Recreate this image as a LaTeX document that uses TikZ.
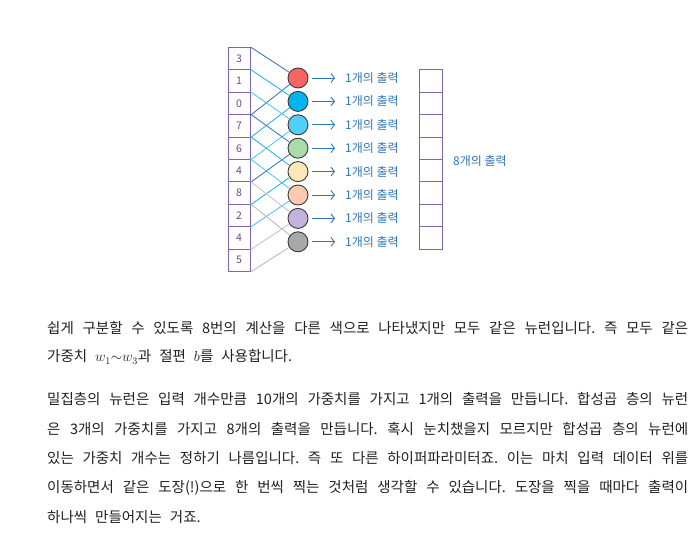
\RequirePackage{fix-cm}
\documentclass[tikz,border=0pt]{standalone}
\usepackage{fontspec}
\newfontfamily\krfont{Noto Sans CJK KR}
\usetikzlibrary{arrows.meta}
\frenchspacing
\newcommand\wordgap{\spaceskip=8pt plus 4pt minus 3pt\relax}

\definecolor{boxpurple}{HTML}{8064B4}
\definecolor{numpurple}{HTML}{5E4B8B}
\definecolor{labelblue}{HTML}{2E75B6}
\definecolor{ringgray}{HTML}{3A3A3A}
\definecolor{bodytext}{HTML}{231F20}
\definecolor{wiredark}{HTML}{2F6FBA}
\definecolor{wireblue}{HTML}{19AEE8}
\definecolor{wirecyan}{HTML}{3CC8F0}
\definecolor{wirepurple}{HTML}{C8B8E0}
\definecolor{wiregray}{HTML}{B4B4B4}
\definecolor{nred}{HTML}{F86464}
\definecolor{nblue}{HTML}{00B4EE}
\definecolor{ncyan}{HTML}{50D0F8}
\definecolor{ngreen}{HTML}{A8DCA8}
\definecolor{nyellow}{HTML}{FFE8B8}
\definecolor{npeach}{HTML}{FFC8B0}
\definecolor{nlavender}{HTML}{C4B4DC}
\definecolor{ngray}{HTML}{A8A8A8}

\begin{document}
\begin{tikzpicture}[x=1pt,y=-1pt]
	\tikzstyle{cell}=[draw=boxpurple,line width=1pt,minimum width=22pt,minimum height=22.4pt,inner sep=0,text=numpurple,font=\krfont\fontsize{10.5}{12}\selectfont]
	\tikzstyle{neuron}=[circle,draw=ringgray,line width=0.9pt,minimum size=20pt,inner sep=0]
	\tikzstyle{wire}=[line width=0.8pt]
	\tikzstyle{outarrow}=[-{Straight Barb[length=3.5pt,width=9pt]},labelblue,line width=0.9pt,shorten <=4pt,shorten >=10pt]
	\tikzstyle{lbl}=[anchor=west,inner sep=0,text=labelblue,font=\krfont\fontsize{12}{14}\selectfont]
	\tikzstyle{body}=[anchor=west,inner sep=0,text=bodytext,font=\krfont\fontsize{14.5}{17}\selectfont]
	
	\useasboundingbox (0,0) rectangle (698,537);
	
	% input
	\node [cell] (in0) at (239, 58.7) {3};
	\node [cell] (in1) at (239, 81.1) {1};
	\node [cell] (in2) at (239,103.5) {0};
	\node [cell] (in3) at (239,125.9) {7};
	\node [cell] (in4) at (239,148.3) {6};
	\node [cell] (in5) at (239,170.7) {4};
	\node [cell] (in6) at (239,193.1) {8};
	\node [cell] (in7) at (239,215.5) {2};
	\node [cell] (in8) at (239,237.9) {4};
	\node [cell] (in9) at (239,260.3) {5};
	
	% neurons
	\node [neuron,fill=nred]      (n0) at (298, 78.0) {};
	\node [neuron,fill=nblue]     (n1) at (298,101.4) {};
	\node [neuron,fill=ncyan]     (n2) at (298,124.8) {};
	\node [neuron,fill=ngreen]    (n3) at (298,148.2) {};
	\node [neuron,fill=nyellow]   (n4) at (298,171.6) {};
	\node [neuron,fill=npeach]    (n5) at (298,195.0) {};
	\node [neuron,fill=nlavender] (n6) at (298,218.4) {};
	\node [neuron,fill=ngray]     (n7) at (298,241.8) {};
	
	\draw[wire,wiredark]   (in0.north east)--(n0);
	\draw[wire,wiredark]   (in2.south east)--(n0);
	\draw[wire,wireblue]   (in1.north east)--(n1);
	\draw[wire,wireblue]   (in3.south east)--(n1);
	\draw[wire,wirecyan]   (in2.north east)--(n2);
	\draw[wire,wirecyan]   (in4.south east)--(n2);
	\draw[wire,wiredark]   (in3.north east)--(n3);
	\draw[wire,wiredark]   (in5.south east)--(n3);
	\draw[wire,wireblue]   (in4.north east)--(n4);
	\draw[wire,wireblue]   (in6.south east)--(n4);
	\draw[wire,wirecyan]   (in5.north east)--(n5);
	\draw[wire,wirecyan]   (in7.south east)--(n5);
	\draw[wire,wirepurple] (in6.north east)--(n6);
	\draw[wire,wirepurple] (in8.south east)--(n6);
	\draw[wire,wiregray]   (in7.north east)--(n7);
	\draw[wire,wiregray]   (in9.south east)--(n7);
	
	% one output each
	\node [lbl] (o0) at (345, 78.0) {1개의 출력};
	\node [lbl] (o1) at (345,101.4) {1개의 출력};
	\node [lbl] (o2) at (345,124.8) {1개의 출력};
	\node [lbl] (o3) at (345,148.2) {1개의 출력};
	\node [lbl] (o4) at (345,171.6) {1개의 출력};
	\node [lbl] (o5) at (345,195.0) {1개의 출력};
	\node [lbl] (o6) at (345,218.4) {1개의 출력};
	\node [lbl] (o7) at (345,241.8) {1개의 출력};
	
	\draw[outarrow] (n0)--(o0);
	\draw[outarrow] (n1)--(o1);
	\draw[outarrow] (n2)--(o2);
	\draw[outarrow] (n3)--(o3);
	\draw[outarrow] (n4)--(o4);
	\draw[outarrow] (n5)--(o5);
	\draw[outarrow] (n6)--(o6);
	\draw[outarrow] (n7)--(o7);
	
	% output map
	\node [cell,minimum width=22.7pt] (m0) at (431.3, 81.2) {};
	\node [cell,minimum width=22.7pt] (m1) at (431.3,103.6) {};
	\node [cell,minimum width=22.7pt] (m2) at (431.3,126.0) {};
	\node [cell,minimum width=22.7pt] (m3) at (431.3,148.4) {};
	\node [cell,minimum width=22.7pt] (m4) at (431.3,170.8) {};
	\node [cell,minimum width=22.7pt] (m5) at (431.3,193.2) {};
	\node [cell,minimum width=22.7pt] (m6) at (431.3,215.6) {};
	\node [cell,minimum width=22.7pt] (m7) at (431.3,238.0) {};
	\node [lbl] (mlabel) at (453,161) {8개의 출력};
	
	% text
	\node [body] (p1a) at (47,328) {\wordgap\makebox[641pt][s]{쉽게 구분할 수 있도록 8번의 계산을 다른 색으로 나타냈지만 모두 같은 뉴런입니다. 즉 모두 같은}};
	\node [body] (p1b) at (47,357) {\wordgap 가중치 $w_1{\sim}w_3$과 절편 $b$를 사용합니다.};
	\node [body] (p2a) at (47,399.0) {\wordgap\makebox[641pt][s]{밀집층의 뉴런은 입력 개수만큼 10개의 가중치를 가지고 1개의 출력을 만듭니다. 합성곱 층의 뉴런}};
	\node [body] (p2b) at (47,428.6) {\wordgap\makebox[641pt][s]{은 3개의 가중치를 가지고 8개의 출력을 만듭니다. 혹시 눈치챘을지 모르지만 합성곱 층의 뉴런에}};
	\node [body] (p2c) at (47,458.2) {\wordgap\makebox[641pt][s]{있는 가중치 개수는 정하기 나름입니다. 즉 또 다른 하이퍼파라미터죠. 이는 마치 입력 데이터 위를}};
	\node [body] (p2d) at (47,487.8) {\wordgap\makebox[641pt][s]{이동하면서 같은 도장(!)으로 한 번씩 찍는 것처럼 생각할 수 있습니다. 도장을 찍을 때마다 출력이}};
	\node [body] (p2e) at (47,517.4) {\wordgap 하나씩 만들어지는 거죠.};
\end{tikzpicture}
\end{document}
